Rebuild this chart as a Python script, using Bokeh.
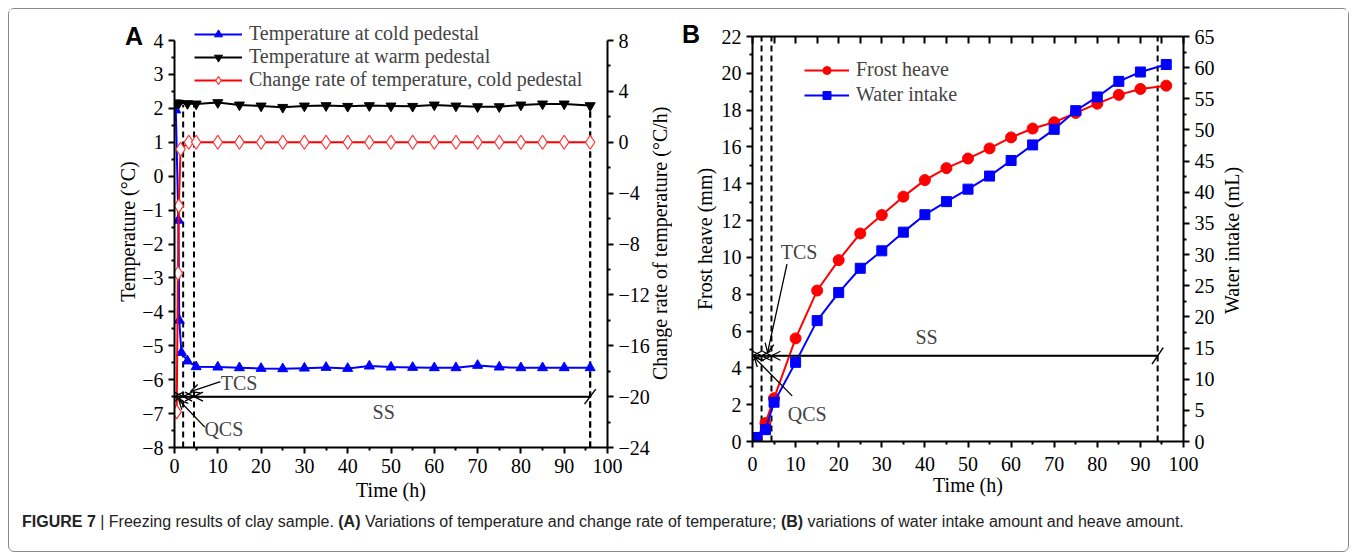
from bokeh.plotting import figure
from bokeh.models import (Range1d, LinearAxis, Legend, LegendItem, Label, Arrow,
                          OpenHead, Div, FixedTicker, GridBox)
from bokeh.embed import file_html
from bokeh.resources import INLINE

# ---------------- Panel A data ----------------
time_cold = [0.3, 0.9, 1.1, 1.6, 3, 5, 10, 15, 20, 25, 30, 35, 40, 45, 50, 55,
             60, 65, 70, 75, 80, 85, 90, 96]
temp_cold = [1.95, -1.3, -4.25, -5.2, -5.45, -5.62, -5.63, -5.65, -5.67, -5.68,
             -5.66, -5.64, -5.67, -5.6, -5.63, -5.64, -5.65, -5.65, -5.58, -5.63,
             -5.65, -5.65, -5.65, -5.65]
time_warm = [0, 0.5, 1, 3, 5, 10, 15, 20, 25, 30, 35, 40, 45, 50, 55, 60, 65, 70,
             75, 80, 85, 90, 96]
temp_warm = [2.15, 2.16, 2.15, 2.14, 2.13, 2.17, 2.1, 2.07, 2.03, 2.07, 2.08, 2.06,
             2.08, 2.07, 2.06, 2.1, 2.07, 2.05, 2.05, 2.1, 2.13, 2.13, 2.08]
time_rate = [0.5, 0.8, 1.0, 1.4, 3.3, 5, 10, 15, 20, 25, 30, 35, 40, 45, 50, 55,
             60, 65, 70, 75, 80, 85, 90, 96]
rate_cold = [-21.2, -10.3, -5.0, -0.55, 0.0, 0, 0, 0, 0, 0, 0, 0, 0, 0, 0, 0,
             0, 0, 0, 0, 0, 0, 0, 0]
phases_A = [0, 2, 4.5, 96]      # QCS / TCS / SS boundaries (h)

# ---------------- Panel B data ----------------
time_B = [1, 3, 5, 10, 15, 20, 25, 30, 35, 40, 45, 50, 55, 60, 65, 70, 75, 80,
          85, 90, 96]
frost_heave = [0.2, 1.0, 2.35, 5.6, 8.2, 9.85, 11.3, 12.3, 13.3, 14.2, 14.85,
               15.37, 15.92, 16.52, 17.0, 17.34, 17.85, 18.35, 18.83, 19.15, 19.33]
water_intake = [0.64, 1.9, 6.3, 12.7, 19.4, 23.9, 27.8, 30.6, 33.6, 36.4, 38.5,
                40.5, 42.6, 45.1, 47.6, 50.1, 53.1, 55.3, 57.8, 59.3, 60.5]
phases_B = [0, 2.1, 4.4, 94]

x_ticks = list(range(0, 101, 10))
x_minor = list(range(5, 100, 10))
top_ticks = list(range(0, 101, 5))
A_left_ticks = list(range(-8, 5))
A_right_ticks = list(range(-24, 9, 4))
B_left_ticks = list(range(0, 23, 2))
B_right_ticks = list(range(0, 66, 5))

SERIF = "Liberation Serif"
FS = "20px"

H = 503
# panel A frame: top 6 px below the plot edge, 432 px tall (extra room for legend)
A_TOP, A_FH = 6, 432
A_ymin, A_ymax = -8, 4 + 25 / (407 / 12)
# panel B frame: 27 px below the plot edge, 405 px tall
B_TOP, B_FH = 27, 405


def style_axis(ax, major, minor):
    ax.ticker = FixedTicker(ticks=major, minor_ticks=minor)
    ax.axis_line_width = 2
    ax.axis_line_color = "black"
    ax.major_tick_line_width = 2
    ax.minor_tick_line_width = 2
    ax.major_tick_out = 6
    ax.major_tick_in = 0
    ax.minor_tick_out = 3
    ax.minor_tick_in = 0
    ax.major_label_text_font = SERIF
    ax.major_label_text_font_size = FS
    ax.major_label_text_color = "black"
    ax.axis_label_text_font = SERIF
    ax.axis_label_text_font_size = FS
    ax.axis_label_text_font_style = "normal"
    ax.axis_label_text_color = "black"
    ax.major_label_standoff = 5
    ax.axis_label_standoff = 3


def add_text(p, x, y, t):
    p.add_layout(Label(x=x, y=y, text=t, text_font=SERIF, text_font_size=FS,
                       text_align="center", text_baseline="middle"))


def phase_marks(p, ys, y_lo, y_hi, phases):
    for xv in phases[1:]:
        p.segment(x0=xv, y0=y_lo, x1=xv, y1=y_hi, line_color="black",
                  line_width=2, line_dash="6 4")
    p.segment(x0=phases[0], y0=ys, x1=phases[-1], y1=ys, line_color="black",
              line_width=2)
    for a, b in [(phases[0], phases[1]), (phases[1], phases[2])]:
        p.add_layout(Arrow(x_start=b, y_start=ys, x_end=a, y_end=ys,
                           start=OpenHead(size=9, line_width=1.3),
                           end=OpenHead(size=9, line_width=1.3),
                           line_width=1.3))
    p.add_layout(Arrow(x_start=phases[3], y_start=ys, x_end=phases[2], y_end=ys,
                       end=OpenHead(size=9, line_width=1.3), line_width=1.3))


# ======================= Panel A =======================
pA = figure(width=681, height=H, x_range=Range1d(0, 100),
            y_range=Range1d(A_ymin, A_ymax), title_location=None,
            output_backend="svg", toolbar_location=None,
            min_border_left=165, min_border_right=83, min_border_top=A_TOP,
            min_border_bottom=H - A_TOP - A_FH)
pA.extra_y_ranges = {"rate": Range1d(-24, 8 + (A_ymax - 4) * 8 / 3)}
pA.xgrid.visible = False
pA.ygrid.visible = False
pA.outline_line_color = None
pA.background_fill_color = "white"
pA.border_fill_color = "white"

style_axis(pA.xaxis[0], x_ticks, x_minor)
pA.xaxis[0].axis_label = "Time (h)"
pA.xaxis[0].axis_label_standoff = 3
style_axis(pA.yaxis[0], A_left_ticks, [v + 0.5 for v in A_left_ticks[:-1]])
pA.yaxis[0].axis_label = "Temperature (°C)"
pA.yaxis[0].axis_label_standoff = 0
pA.yaxis[0].bounds = (-8, 4)
ax_r = LinearAxis(y_range_name="rate")
style_axis(ax_r, A_right_ticks, [v + 2 for v in A_right_ticks[:-1]])
ax_r.bounds = (-24, 8)
pA.add_layout(ax_r, "right")

phase_marks(pA, -6.5, -8, 2.1, phases_A)
pA.segment(x0=phases_A[3], y0=-8, x1=phases_A[3], y1=2.08, line_color="black",
           line_width=2, line_dash="6 4")
pA.segment(x0=phases_A[3] - 1.3, y0=-6.72, x1=phases_A[3] + 1.3, y1=-6.28,
           line_color="black", line_width=1.5)
pA.add_layout(Arrow(x_start=10.6, y_start=-6.06, x_end=3.7, y_end=-6.35,
                    end=OpenHead(size=9, line_width=1.3), line_width=1.3))
pA.add_layout(Arrow(x_start=7, y_start=-7.4, x_end=1, y_end=-6.6,
                    end=OpenHead(size=9, line_width=1.3), line_width=1.3))
add_text(pA, 14.9, -6.1, "TCS")
add_text(pA, 11.4, -7.45, "QCS")
add_text(pA, 48.3, -6.95, "SS")

l1 = pA.line(time_cold, temp_cold, line_color="#0000FF", line_width=2)
m1 = pA.scatter(time_cold, temp_cold, marker="triangle", size=10,
                fill_color="#0000FF", line_color="#0000FF")
l2 = pA.line(time_warm, temp_warm, line_color="black", line_width=2)
m2 = pA.scatter(time_warm, temp_warm, marker="inverted_triangle", size=10,
                fill_color="black", line_color="black")
l3 = pA.line(time_rate, rate_cold, line_color="#FF0000", line_width=2,
             y_range_name="rate")
m3 = pA.scatter(time_rate, rate_cold, marker="diamond", size=14,
                fill_color="white", line_color="#FF3030", line_width=1.2,
                y_range_name="rate")

legA = Legend(items=[
    LegendItem(label="Temperature at cold pedestal", renderers=[l1, m1]),
    LegendItem(label="Temperature at warm pedestal", renderers=[l2, m2]),
    LegendItem(label="Change rate of temperature, cold pedestal", renderers=[l3, m3]),
], location=(20, 356), background_fill_alpha=0, border_line_alpha=0,
    label_text_font=SERIF, label_text_font_size=FS, glyph_width=48,
    glyph_height=20, label_height=20, spacing=0, padding=0, margin=0,
    label_standoff=7)
pA.add_layout(legA)

# ======================= Panel B =======================
pB = figure(width=658, height=H, x_range=Range1d(0, 100),
            y_range=Range1d(0, 22), title_location=None,
            output_backend="svg", toolbar_location=None,
            min_border_left=60, min_border_right=165, min_border_top=B_TOP,
            min_border_bottom=H - B_TOP - B_FH)
pB.extra_y_ranges = {"water": Range1d(0, 65)}
pB.xgrid.visible = False
pB.ygrid.visible = False
pB.outline_line_color = None
pB.background_fill_color = "white"
pB.border_fill_color = "white"

style_axis(pB.xaxis[0], x_ticks, x_minor)
pB.xaxis[0].axis_label = "Time (h)"
pB.xaxis[0].major_label_standoff = 9
pB.xaxis[0].axis_label_standoff = 0
style_axis(pB.yaxis[0], B_left_ticks, [v + 1 for v in B_left_ticks[:-1]])
pB.yaxis[0].axis_label = "Frost heave (mm)"
ax_w = LinearAxis(y_range_name="water")
style_axis(ax_w, B_right_ticks, [v + 2.5 for v in B_right_ticks[:-1]])
pB.add_layout(ax_w, "right")
# top border: unlabeled inward ticks only (minor ticks, no major labels)
ax_top = LinearAxis()
style_axis(ax_top, [], top_ticks)
ax_top.major_tick_out = 0
ax_top.minor_tick_out = 0
ax_top.minor_tick_in = 7
ax_top.major_label_standoff = 0
pB.add_layout(ax_top, "above")

phase_marks(pB, 4.66, 0, 22, phases_B)
pB.segment(x0=phases_B[3] - 1.3, y0=4.2, x1=phases_B[3] + 1.3, y1=5.1,
           line_color="black", line_width=1.5)
pB.add_layout(Arrow(x_start=8, y_start=9.64, x_end=3.5, y_end=4.84,
                    end=OpenHead(size=9, line_width=1.3), line_width=1.3))
pB.add_layout(Arrow(x_start=9.2, y_start=2.48, x_end=0.4, y_end=4.57,
                    end=OpenHead(size=9, line_width=1.3), line_width=1.3))
add_text(pB, 10.8, 10.27, "TCS")
add_text(pB, 12.7, 1.49, "QCS")
add_text(pB, 40.4, 5.65, "SS")

lb1 = pB.line(time_B, frost_heave, line_color="#FF0000", line_width=2)
mb1 = pB.scatter(time_B, frost_heave, marker="circle", size=11,
                 fill_color="#FF0000", line_color="#FF0000")
lb2 = pB.line(time_B, water_intake, line_color="#0000FF", line_width=2,
              y_range_name="water")
mb2 = pB.scatter(time_B, water_intake, marker="square", size=10,
                 fill_color="#0000FF", line_color="#0000FF", y_range_name="water")

legB = Legend(items=[
    LegendItem(label="Frost heave", renderers=[lb1, mb1]),
    LegendItem(label="Water intake", renderers=[lb2, mb2]),
], location=(52, 335), background_fill_alpha=0, border_line_alpha=0,
    label_text_font=SERIF, label_text_font_size=FS, glyph_width=45,
    glyph_height=20, label_height=20, spacing=2, padding=0, margin=0,
    label_standoff=7)
pB.add_layout(legB)

# the two panels have different frames: do not align them
for p in (pA, pB):
    try:
        p.frame_align = False
    except Exception:
        pass


# ================= overlay texts (HTML) =================
def panel_letter(txt, cx, cy):
    return Div(text=(f'<div style="width:30px;height:30px;display:flex;align-items:center;'
                     f'justify-content:center;font-family:\'Liberation Sans\',Arial,sans-serif;'
                     f'font-weight:bold;font-size:25px;color:black;">{txt}</div>'),
               width=30, height=30, margin=(int(cy - 15 - 9), 0, 0, int(cx - 15 - 9)))


def vlabel(txt, cx, cy):
    return Div(text=(f'<div style="width:30px;height:420px;display:flex;align-items:center;'
                     f'justify-content:center;writing-mode:vertical-rl;transform:rotate(180deg);'
                     f'font-family:\'Liberation Serif\',serif;font-size:20px;color:black;'
                     f'white-space:nowrap;">{txt}</div>'),
               width=30, height=420, margin=(int(cy - 210 - 9), 0, 0, int(cx - 15 - 9)))


letterA = panel_letter("A", 134, 37)
letterB = panel_letter("B", 691, 35)
rlabA = vlabel("Change rate of temperature (°C/h)", 660, 243)
rlabB = vlabel("Water intake (mL)", 1232, 240)

caption = Div(
    text=('<div style="padding:0 0 0 13px; line-height:18px; font-family:\'Liberation Sans\', Arial, sans-serif; '
          'font-size:16px; white-space:nowrap; color:#222;">'
          '<b>FIGURE 7</b> | Freezing results of clay sample. <b>(A)</b> Variations of '
          'temperature and change rate of temperature; <b>(B)</b> variations of water '
          'intake amount and heave amount.</div>'),
    width=1300, height=38, margin=(504, 0, 0, 0))

layout = GridBox(children=[(pA, 0, 0), (pB, 0, 1),
                           (caption, 0, 0, 1, 2),
                           (letterA, 0, 0, 1, 2), (letterB, 0, 0, 1, 2),
                           (rlabA, 0, 0, 1, 2), (rlabB, 0, 0, 1, 2)],
                 spacing=0, margin=(8, 8, 8, 8),
                 styles={"border": "1px solid #8a8a8a", "border-radius": "6px",
                         "background-color": "white"})

open("out.html", "w").write(file_html(layout, INLINE))
